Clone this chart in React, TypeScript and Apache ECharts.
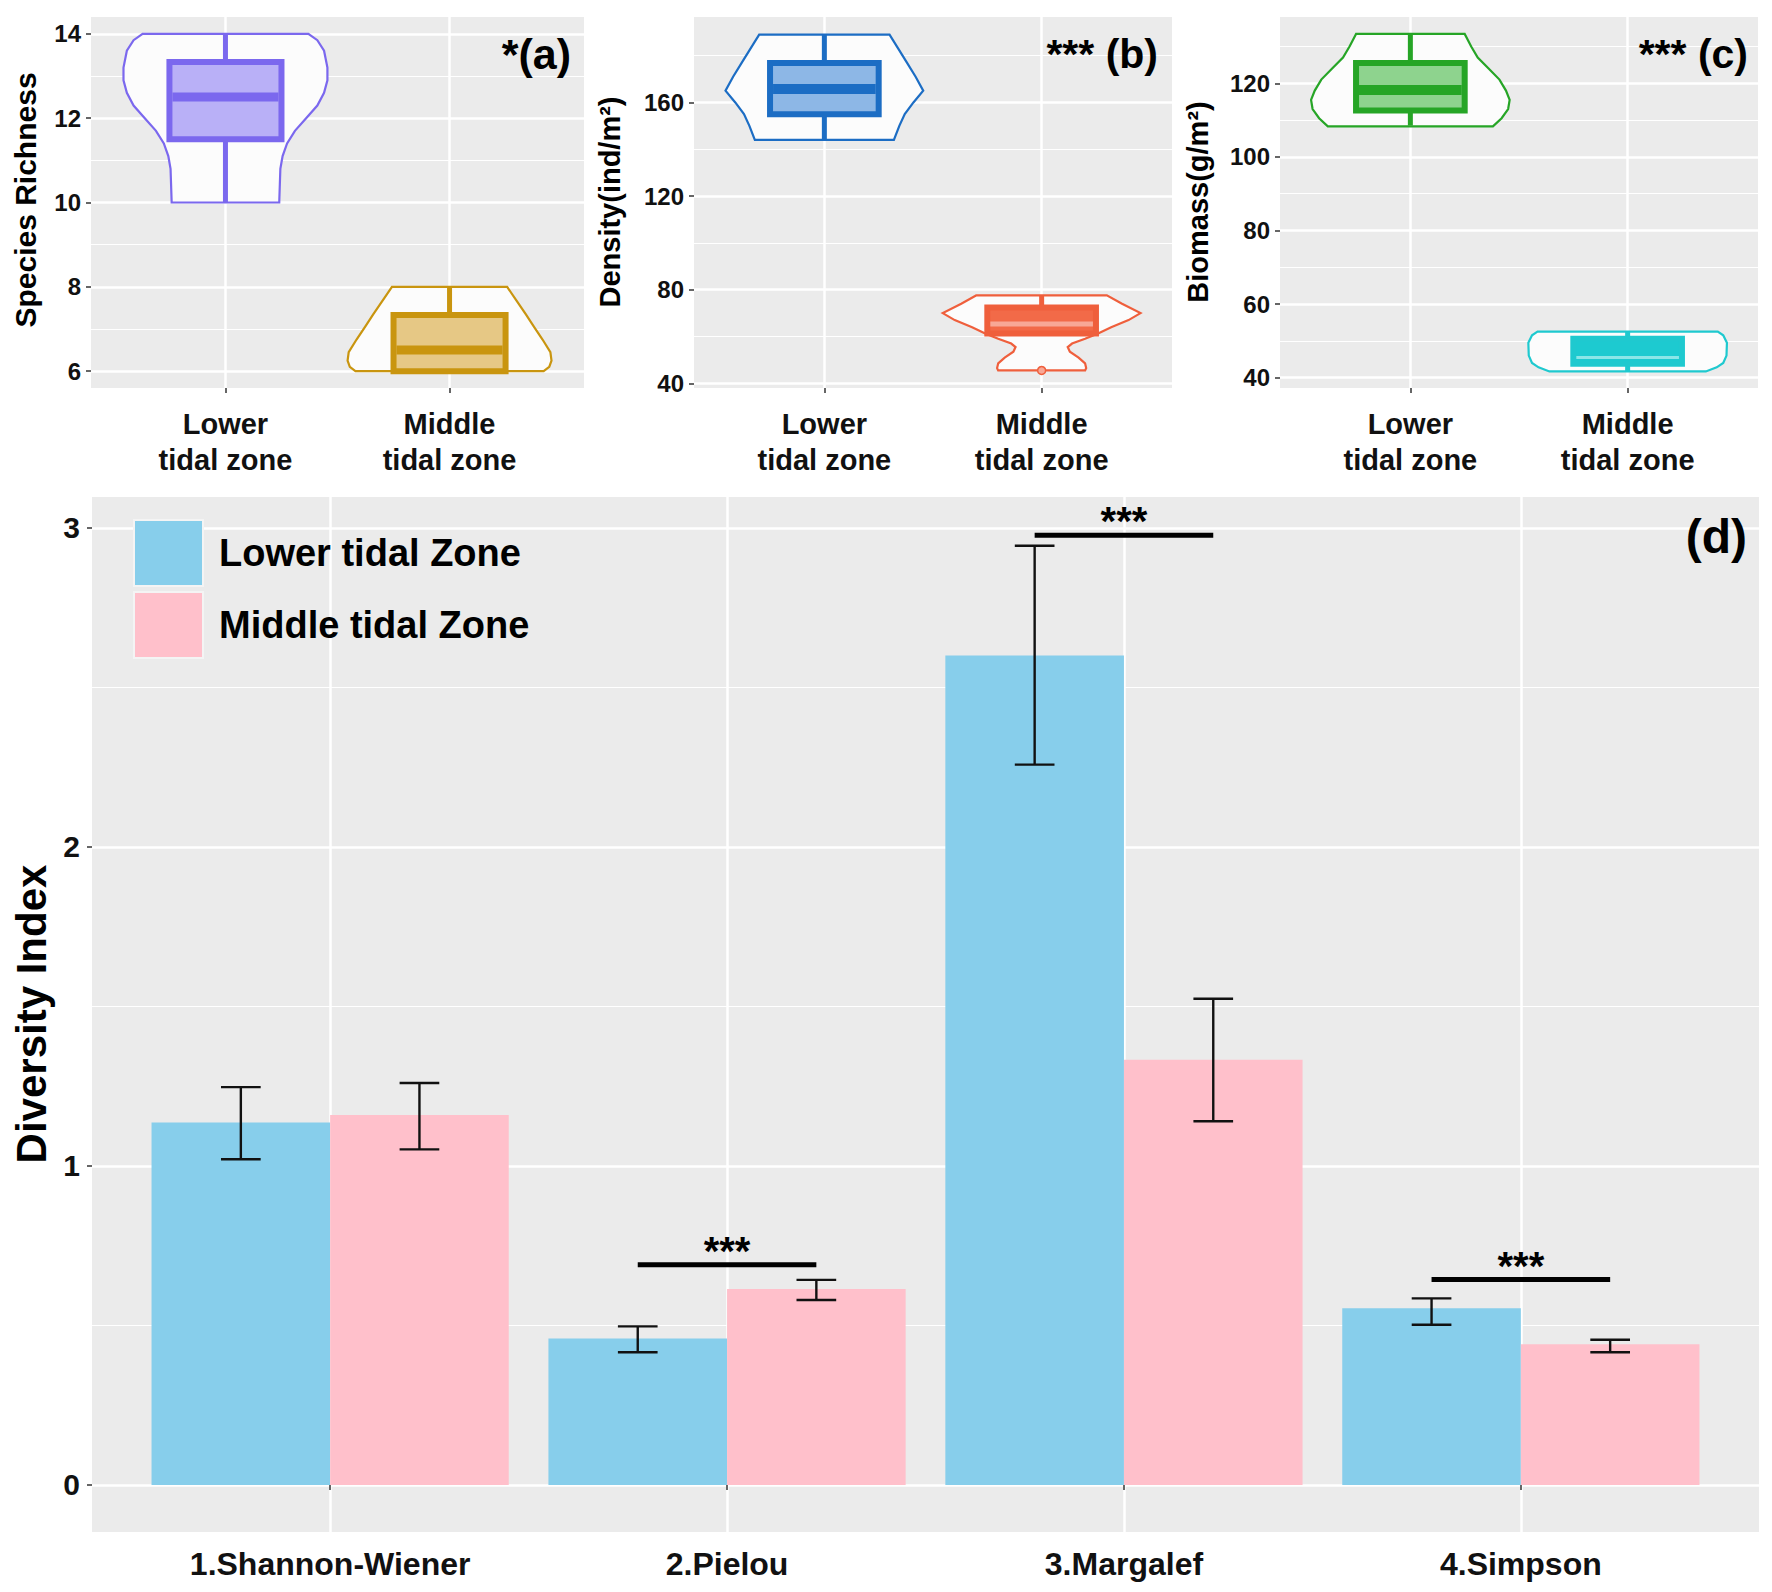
import React, { useEffect, useRef } from "react";
import * as echarts from "echarts";

// ---------- data ----------
const zoneLabels = ["Lower\ntidal zone", "Middle\ntidal zone"];
const indexLabels = ["1.Shannon-Wiener", "2.Pielou", "3.Margalef", "4.Simpson"];
const legendNames = ["Lower tidal Zone", "Middle tidal Zone"];
const panelTags = ["*(a)", "*** (b)", "*** (c)", "(d)"];
const yTitles = ["Species Richness", "Density(ind/m²)", "Biomass(g/m²)", "Diversity Index"];

// violin outlines: [value, half-width (in category units)]
const richnessLowerViolin = [
  [14.0, 0.37], [13.85, 0.41], [13.6, 0.44], [13.2, 0.455], [12.9, 0.455], [12.6, 0.44],
  [12.3, 0.41], [12.0, 0.36], [11.7, 0.31], [11.4, 0.275], [11.1, 0.255], [10.8, 0.245], [10.0, 0.24],
];
const richnessMiddleViolin = [
  [8.0, 0.257], [7.7, 0.295], [7.35, 0.34], [7.05, 0.377], [6.75, 0.415], [6.45, 0.45],
  [6.25, 0.455], [6.1, 0.445], [6.0, 0.42],
];
const densityLowerViolin = [
  [189, 0.3], [183, 0.34], [177, 0.38], [171, 0.42], [165, 0.455], [160, 0.41], [155, 0.37], [150, 0.345], [144, 0.32],
];
const densityMiddleViolin = [
  [77.6, 0.3], [74, 0.37], [70, 0.455], [67, 0.4], [64, 0.32], [61.3, 0.26], [59, 0.2], [57, 0.14],
  [55.5, 0.12], [53.5, 0.13], [51, 0.17], [48.5, 0.2], [46.5, 0.205], [45.5, 0.2],
];
const biomassLowerViolin = [
  [133.4, 0.25], [130, 0.28], [127, 0.31], [124, 0.36], [121, 0.41], [118, 0.44], [115.5, 0.457],
  [113, 0.45], [110.5, 0.42], [108.3, 0.38],
];
const biomassMiddleViolin = [
  [52.5, 0.415], [51.5, 0.44], [49.5, 0.457], [46, 0.455], [44, 0.44], [42.8, 0.41], [41.7, 0.36],
];

// box stats: [lower whisker, q1, median, q3, upper whisker]
const richnessLowerBox = [10, 11.5, 12.5, 13.33, 14];
const richnessMiddleBox = [6, 6, 6.5, 7.33, 8];
const densityLowerBox = [144, 155, 165.7, 176.8, 189];
const densityMiddleBox = [61.3, 61.3, 65.3, 72.4, 77.6];
const biomassLowerBox = [108.5, 112.6, 118.2, 125.5, 133.4];
const biomassMiddleBox = [41.7, 43.8, 45.5, 50.6, 52.5];
const densityMiddleOutliers = [45.5];

const richnessTicks = [6, 8, 10, 12, 14];
const densityTicks = [40, 80, 120, 160];
const biomassTicks = [40, 60, 80, 100, 120];
const diversityTicks = [0, 1, 2, 3];

// diversity indices (mean and error-bar limits)
const lowerMean = [1.136, 0.459, 2.6, 0.554];
const lowerErrLow = [1.021, 0.416, 2.258, 0.502];
const lowerErrHigh = [1.247, 0.497, 2.944, 0.585];
const middleMean = [1.16, 0.614, 1.333, 0.441];
const middleErrLow = [1.052, 0.58, 1.14, 0.416];
const middleErrHigh = [1.26, 0.643, 1.524, 0.455];

const sigIndex = [2, 3, 4];
const sigLineValue = [0.69, 2.977, 0.644];
const sigLabel = ["***", "***", "***"];

// ---------- styles ----------
const FONT = "'Liberation Sans', Arial, Helvetica, sans-serif";
const PANEL_BG = "#EBEBEB";
const BOX_HALF = 0.25;
const DODGE = 0.45;

const boxStyles = [
  [
    { line: "#7B68EE", fill: "#B9B0F7", median: "#7B68EE", mw: 9 },
    { line: "#C9950F", fill: "#E6C885", median: "#C9950F", mw: 9 },
  ],
  [
    { line: "#1C6DC4", fill: "#8DB7E6", median: "#1C6DC4", mw: 10 },
    { line: "#EF5F3C", fill: "#F26A48", median: "#F8A896", mw: 5 },
  ],
  [
    { line: "#26A526", fill: "#8ED38E", median: "#26A526", mw: 10 },
    { line: "#1FC9CF", fill: "#1DCAD0", median: "#8AE6E8", mw: 3 },
  ],
];

const grids = [
  { left: 91, top: 17, width: 493, height: 371 },
  { left: 694, top: 17, width: 478, height: 371 },
  { left: 1280, top: 17, width: 478, height: 371 },
  { left: 92, top: 497, width: 1667, height: 1035 },
];

function yAxisFor(gridIndex: number, min: number, max: number, step: number, ticks: number[], size: number, margin: number) {
  return {
    type: "value",
    gridIndex,
    min,
    max,
    minInterval: step,
    maxInterval: step,
    axisLine: { show: false },
    axisTick: { show: true, length: 5, lineStyle: { color: "#333", width: 1.5 }, customValues: ticks },
    axisLabel: { customValues: ticks, fontSize: size, fontWeight: "bold", color: "#111", margin, fontFamily: FONT },
    splitLine: { show: true, lineStyle: { color: "#FFFFFF", width: 2.5 } },
    minorTick: { show: false, splitNumber: 2 },
    minorSplitLine: { show: true, lineStyle: { color: "#FFFFFF", width: 1.2 } },
  };
}

function xAxisFor(gridIndex: number, max: number, labels: string[], size: number, lineHeight: number, margin: number) {
  const vals = labels.map((_, i) => i + 1);
  return {
    type: "value",
    gridIndex,
    min: 0.4,
    max,
    minInterval: 1,
    maxInterval: 1,
    axisLine: { show: false },
    axisTick: { show: true, length: 5, lineStyle: { color: "#333", width: 1.5 }, customValues: vals },
    axisLabel: {
      customValues: vals,
      formatter: (v: number) => labels[Math.round(v) - 1] ?? "",
      fontSize: size,
      lineHeight,
      fontWeight: "bold",
      color: "#111",
      margin,
      fontFamily: FONT,
    },
    splitLine: { show: true, lineStyle: { color: "#FFFFFF", width: 2.5 } },
  };
}

function violinSeries(idx: number, violins: number[][][], boxes: number[][], outliers: number[][]) {
  return {
    type: "custom",
    xAxisIndex: idx,
    yAxisIndex: idx,
    clip: false,
    silent: true,
    data: boxes.map((b, i) => [i + 1, b[2]]),
    renderItem: (params: any, api: any) => {
      const i = params.dataIndex;
      const xc = api.value(0);
      const prof = violins[i];
      const st = boxStyles[idx][i];
      const b = boxes[i];
      const left = prof.map(([y, w]) => api.coord([xc - w, y]));
      const right = prof
        .slice()
        .reverse()
        .map(([y, w]) => api.coord([xc + w, y]));
      const children: any[] = [];
      children.push({
        type: "polygon",
        shape: { points: left.concat(right) },
        style: { fill: "#FCFCFC", stroke: st.line, lineWidth: 2.2 },
      });
      const top = api.coord([xc, b[4]]);
      const q3 = api.coord([xc, b[3]]);
      const q1 = api.coord([xc, b[1]]);
      const bot = api.coord([xc, b[0]]);
      if (b[4] > b[3])
        children.push({ type: "line", shape: { x1: top[0], y1: top[1], x2: q3[0], y2: q3[1] }, style: { stroke: st.line, lineWidth: 5 } });
      if (b[0] < b[1])
        children.push({ type: "line", shape: { x1: q1[0], y1: q1[1], x2: bot[0], y2: bot[1] }, style: { stroke: st.line, lineWidth: 5 } });
      const tl = api.coord([xc - BOX_HALF, b[3]]);
      const br = api.coord([xc + BOX_HALF, b[1]]);
      children.push({
        type: "rect",
        shape: { x: tl[0], y: tl[1], width: br[0] - tl[0], height: br[1] - tl[1] },
        style: { fill: st.fill, stroke: st.line, lineWidth: 6 },
      });
      const m1 = api.coord([xc - BOX_HALF, b[2]]);
      const m2 = api.coord([xc + BOX_HALF, b[2]]);
      children.push({
        type: "line",
        shape: { x1: m1[0] + 3, y1: m1[1], x2: m2[0] - 3, y2: m2[1] },
        style: { stroke: st.median, lineWidth: st.mw },
      });
      (outliers[i] || []).forEach((o) => {
        const p = api.coord([xc, o]);
        children.push({ type: "circle", shape: { cx: p[0], cy: p[1], r: 4 }, style: { fill: st.median, stroke: st.line, lineWidth: 1.5 } });
      });
      return { type: "group", children };
    },
  };
}

function barSeries(name: string, values: number[], color: string, side: number) {
  return {
    type: "custom",
    name,
    xAxisIndex: 3,
    yAxisIndex: 3,
    silent: true,
    itemStyle: { color },
    data: values.map((v, i) => [i + 1, v]),
    renderItem: (params: any, api: any) => {
      const x = api.value(0);
      const v = api.value(1);
      const a = api.coord([side < 0 ? x - DODGE : x, v]);
      const b = api.coord([side < 0 ? x : x + DODGE, 0]);
      return { type: "rect", shape: { x: a[0], y: a[1], width: b[0] - a[0], height: b[1] - a[1] }, style: { fill: color } };
    },
  };
}

function errorSeries(lo: number[], hi: number[], side: number) {
  return {
    type: "custom",
    xAxisIndex: 3,
    yAxisIndex: 3,
    silent: true,
    z: 5,
    data: lo.map((l, i) => [i + 1, l, hi[i]]),
    renderItem: (params: any, api: any) => {
      const xc = api.value(0) + side * DODGE / 2;
      const pl = api.coord([xc, api.value(1)]);
      const ph = api.coord([xc, api.value(2)]);
      const cl = api.coord([xc - 0.05, api.value(1)]);
      const cr = api.coord([xc + 0.05, api.value(1)]);
      const hl = api.coord([xc - 0.05, api.value(2)]);
      const hr = api.coord([xc + 0.05, api.value(2)]);
      const st = { stroke: "#111", lineWidth: 2.4 };
      return {
        type: "group",
        children: [
          { type: "line", shape: { x1: pl[0], y1: pl[1], x2: ph[0], y2: ph[1] }, style: st },
          { type: "line", shape: { x1: cl[0], y1: cl[1], x2: cr[0], y2: cr[1] }, style: st },
          { type: "line", shape: { x1: hl[0], y1: hl[1], x2: hr[0], y2: hr[1] }, style: st },
        ],
      };
    },
  };
}

function sigSeries() {
  return {
    type: "custom",
    xAxisIndex: 3,
    yAxisIndex: 3,
    silent: true,
    z: 6,
    data: sigIndex.map((c, i) => [c, sigLineValue[i]]),
    renderItem: (params: any, api: any) => {
      const c = api.value(0);
      const y = api.value(1);
      const a = api.coord([c - DODGE / 2, y]);
      const b = api.coord([c + DODGE / 2, y]);
      return {
        type: "group",
        children: [
          { type: "line", shape: { x1: a[0], y1: a[1], x2: b[0], y2: b[1] }, style: { stroke: "#000", lineWidth: 5 } },
          {
            type: "text",
            x: (a[0] + b[0]) / 2,
            y: a[1] - 14,
            style: { text: sigLabel[params.dataIndex], align: "center", verticalAlign: "middle", fontSize: 40, fontWeight: "bold", fill: "#000", fontFamily: FONT },
          },
        ],
      };
    },
  };
}

function rotText(text: string, x: number, y: number, size: number) {
  return {
    type: "text",
    x,
    y,
    rotation: Math.PI / 2,
    style: { text, align: "center", verticalAlign: "middle", fontSize: size, fontWeight: "bold", fill: "#000", fontFamily: FONT },
  };
}

function tagText(text: string, x: number, y: number, size: number) {
  return {
    type: "text",
    x,
    y,
    z: 10,
    style: { text, align: "right", verticalAlign: "middle", fontSize: size, fontWeight: "bold", fill: "#000", fontFamily: FONT },
  };
}

export default function App() {
  const ref = useRef<HTMLDivElement>(null);
  useEffect(() => {
    if (!ref.current) return;
    const chart = echarts.init(ref.current, null, { renderer: "svg" });
    const option: any = {
      animation: false,
      backgroundColor: "#FFFFFF",
      textStyle: { fontFamily: FONT },
      grid: grids.map((g) => ({ ...g, show: true, backgroundColor: PANEL_BG, borderWidth: 0, containLabel: false })),
      xAxis: [
        xAxisFor(0, 2.6, zoneLabels, 29, 36, 18),
        xAxisFor(1, 2.6, zoneLabels, 29, 36, 18),
        xAxisFor(2, 2.6, zoneLabels, 29, 36, 18),
        xAxisFor(3, 4.6, indexLabels, 32, 34, 15),
      ],
      yAxis: [
        yAxisFor(0, 5.6, 14.4, 2, richnessTicks, 24, 10),
        yAxisFor(1, 38, 196.5, 40, densityTicks, 24, 10),
        yAxisFor(2, 37.2, 138, 20, biomassTicks, 24, 10),
        yAxisFor(3, -0.1475, 3.097, 1, diversityTicks, 30, 12),
      ],
      legend: {
        data: legendNames,
        orient: "vertical",
        left: 133,
        top: 519,
        padding: 0,
        itemWidth: 69,
        itemHeight: 66,
        itemGap: 4,
        icon: "rect",
        itemStyle: { borderColor: "#F4F4F4", borderWidth: 2 },
        textStyle: { fontSize: 38, fontWeight: "bold", color: "#000", fontFamily: FONT, padding: [0, 0, 0, 11] },
        selectedMode: false,
      },
      graphic: [
        rotText(yTitles[0], 25, 200, 30),
        rotText(yTitles[1], 610, 202, 29),
        rotText(yTitles[2], 1198, 202, 29),
        rotText(yTitles[3], 31, 1014, 42),
        tagText(panelTags[0], 571, 54, 43),
        tagText(panelTags[1], 1158, 54, 41),
        tagText(panelTags[2], 1748, 54, 41),
        tagText(panelTags[3], 1747, 536, 48),
      ],
      series: [
        violinSeries(0, [richnessLowerViolin, richnessMiddleViolin], [richnessLowerBox, richnessMiddleBox], [[], []]),
        violinSeries(1, [densityLowerViolin, densityMiddleViolin], [densityLowerBox, densityMiddleBox], [[], densityMiddleOutliers]),
        violinSeries(2, [biomassLowerViolin, biomassMiddleViolin], [biomassLowerBox, biomassMiddleBox], [[], []]),
        barSeries(legendNames[0], lowerMean, "#87CEEB", -1),
        barSeries(legendNames[1], middleMean, "#FFC0CB", 1),
        errorSeries(lowerErrLow, lowerErrHigh, -1),
        errorSeries(middleErrLow, middleErrHigh, 1),
        sigSeries(),
      ],
    };
    chart.setOption(option);
    return () => chart.dispose();
  }, []);
  return <div ref={ref} style={{ position: "absolute", left: 0, top: 0, width: 1772, height: 1592, background: "#fff" }} />;
}
